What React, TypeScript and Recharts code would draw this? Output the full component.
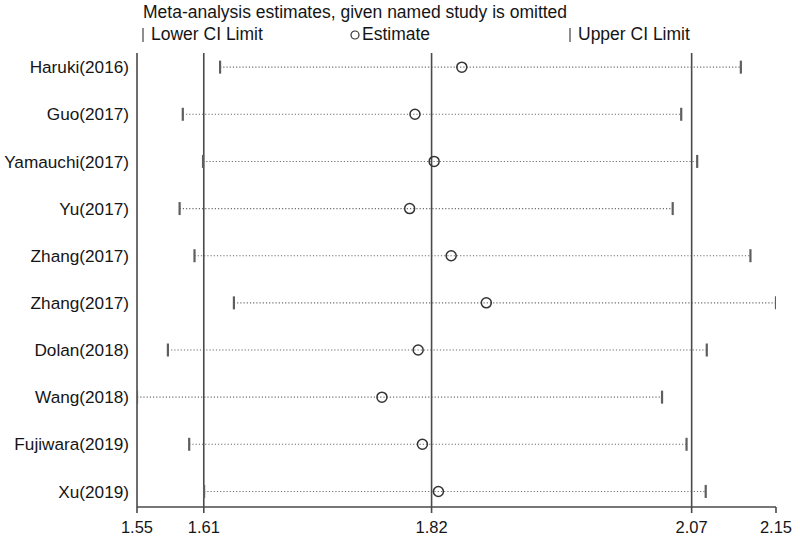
import React from 'react'
import { ComposedChart, Scatter, XAxis, YAxis, ReferenceLine } from 'recharts'

const studies = [
  'Haruki(2016)',
  'Guo(2017)',
  'Yamauchi(2017)',
  'Yu(2017)',
  'Zhang(2017)',
  'Zhang(2017)',
  'Dolan(2018)',
  'Wang(2018)',
  'Fujiwara(2019)',
  'Xu(2019)',
]
const lower = [1.628, 1.593, 1.612, 1.59, 1.604, 1.641, 1.579, 1.55, 1.599, 1.613]
const estimate = [1.855, 1.811, 1.829, 1.806, 1.845, 1.878, 1.814, 1.78, 1.818, 1.833]
const upper = [2.117, 2.061, 2.076, 2.053, 2.126, 2.15, 2.085, 2.043, 2.066, 2.084]

// combined estimate: lower CI, estimate, upper CI
const combined = [1.6127, 1.8266, 2.0708]
const xTicks = [1.55, 1.6127, 1.8266, 2.0708, 2.15]
const xTickLabels = ['1.55', '1.61', '1.82', '2.07', '2.15']

const FONT = '"Liberation Sans", Arial, sans-serif'
const LINE = '#4a4a4a'
const CAP = '#5e5e5e'

const rows = studies.map((_, i) => i)
const lowData = rows.map((i) => ({ x: lower[i], y: i }))
const estData = rows.map((i) => ({ x: estimate[i], y: i }))
const upData = rows.map((i) => ({ x: upper[i], y: i }))

const capShape = (p: any) => (
  <line x1={p.cx} x2={p.cx} y1={p.cy - 6.5} y2={p.cy + 6.5} stroke={CAP} strokeWidth={2.2} />
)
const estShape = (p: any) => (
  <circle cx={p.cx} cy={p.cy} r={5} fill="none" stroke="#333" strokeWidth={1.5} />
)

export default function App() {
  return (
    <div
      style={{
        position: 'absolute',
        left: 0,
        top: 0,
        width: 800,
        height: 536,
        background: '#fff',
        fontFamily: FONT,
        color: '#151515',
      }}
    >
      <div style={{ position: 'absolute', left: 143, top: 2, fontSize: 17.5, whiteSpace: 'nowrap' }}>
        Meta-analysis estimates, given named study is omitted
      </div>
      <div style={{ position: 'absolute', left: 0, top: 24, width: 800, height: 22, fontSize: 17.5 }}>
        <svg width={800} height={22} style={{ position: 'absolute', left: 0, top: 0 }}>
          <line x1={143} x2={143} y1={4} y2={18} stroke={CAP} strokeWidth={1.4} />
          <circle cx={355} cy={11} r={4} fill="none" stroke="#333" strokeWidth={1.2} />
          <line x1={570} x2={570} y1={4} y2={18} stroke={CAP} strokeWidth={1.4} />
        </svg>
        <span style={{ position: 'absolute', left: 151, top: 0, whiteSpace: 'nowrap' }}>Lower CI Limit</span>
        <span style={{ position: 'absolute', left: 362, top: 0, whiteSpace: 'nowrap' }}>Estimate</span>
        <span style={{ position: 'absolute', left: 578, top: 0, whiteSpace: 'nowrap' }}>Upper CI Limit</span>
      </div>
      <div style={{ position: 'absolute', left: 0, top: 0 }}>
        <ComposedChart width={800} height={536} margin={{ top: 53, right: 24, bottom: 0, left: 0 }}>
          <XAxis
            type="number"
            dataKey="x"
            domain={[1.55, 2.15]}
            ticks={xTicks}
            tickFormatter={(v: number) => xTickLabels[xTicks.indexOf(v)]}
            allowDataOverflow
            height={29}
            tickSize={6}
            tickMargin={8}
            stroke={LINE}
            tick={{ fill: '#151515', fontSize: 16.5, fontFamily: FONT }}
            axisLine={{ stroke: LINE, strokeWidth: 1.6 }}
            tickLine={{ stroke: LINE, strokeWidth: 1.6 }}
          />
          <YAxis
            type="number"
            dataKey="y"
            domain={[-0.3, 9.33]}
            reversed
            allowDataOverflow
            ticks={rows}
            tickFormatter={(v: number) => studies[v]}
            width={137}
            tickLine={false}
            tickMargin={2}
            axisLine={{ stroke: LINE, strokeWidth: 1.6 }}
            tick={{ fill: '#151515', fontSize: 17.2, fontFamily: FONT }}
            interval={0}
          />
          {rows.map((i) => (
            <ReferenceLine
              key={'ci' + i}
              segment={[
                { x: lower[i], y: i },
                { x: upper[i], y: i },
              ]}
              stroke="#6e6e6e"
              strokeWidth={1.1}
              strokeDasharray="1.2 2"
              ifOverflow="visible"
            />
          ))}
          {combined.map((v) => (
            <ReferenceLine key={'c' + v} x={v} stroke={LINE} strokeWidth={1.6} />
          ))}
          <Scatter data={lowData} shape={capShape} isAnimationActive={false} />
          <Scatter data={upData} shape={capShape} isAnimationActive={false} />
          <Scatter data={estData} shape={estShape} isAnimationActive={false} />
        </ComposedChart>
      </div>
    </div>
  )
}
